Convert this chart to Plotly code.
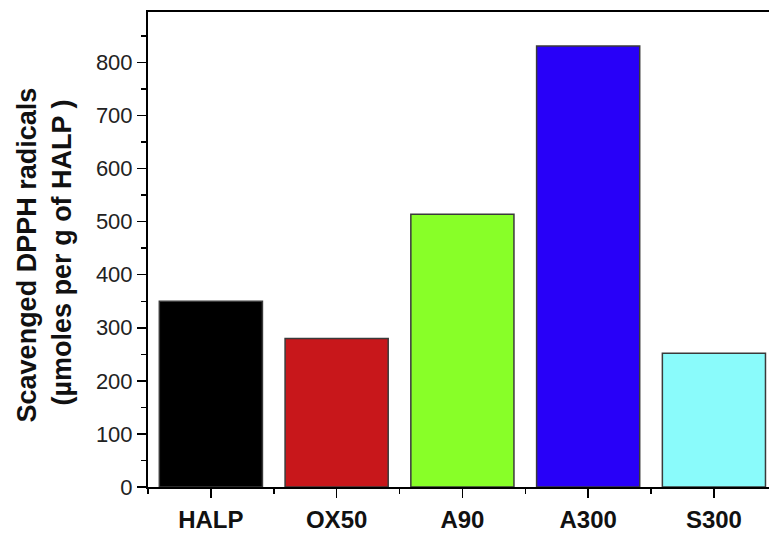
import plotly.graph_objects as go

categories = ["HALP", "OX50", "A90", "A300", "S300"]
values = [350, 280, 514, 831, 252]
colors = ["#000000", "#C8171B", "#88FF28", "#2800F8", "#8AFBFB"]
y_title_1 = "Scavenged DPPH radicals"
y_title_2 = "(µmoles per g of HALP )"

positions = list(range(len(categories)))

fig = go.Figure()
fig.add_trace(go.Bar(
    x=positions, y=values, width=0.82,
    marker=dict(color=colors, line=dict(color="#3a3a3a", width=1.5)),
    showlegend=False,
))

FONT = "Liberation Sans, Arial, sans-serif"

fig.update_layout(
    width=769, height=533,
    margin=dict(l=148, r=0, t=12, b=41),
    paper_bgcolor="white", plot_bgcolor="white",
    font=dict(family=FONT, color="#111"),
    bargap=0,
    xaxis=dict(
        range=[-0.5, 4.438], tickmode="array", tickvals=positions, ticktext=[f"<b>{c}</b>" for c in categories],
        showline=True, linecolor="black", linewidth=2, mirror=True,
        ticks="outside", ticklen=9, tickwidth=1.5, tickcolor="black",
        tickfont=dict(size=24, family=FONT, color="#111"),
        ticklabelstandoff=1,
        minor=dict(tickmode="linear", tick0=0.5, dtick=1, ticks="outside", ticklen=5, tickwidth=1.5, tickcolor="black"),
        showgrid=False, zeroline=False, fixedrange=True,
    ),
    yaxis=dict(
        range=[0, 895], tickmode="linear", tick0=0, dtick=100,
        showline=True, linecolor="black", linewidth=2, mirror=False,
        ticks="outside", ticklen=9, tickwidth=1.5, tickcolor="black",
        tickfont=dict(size=22, family=FONT, color="#222"),
        minor=dict(tickmode="linear", tick0=0, dtick=50, ticks="outside", ticklen=5, tickwidth=1.5, tickcolor="black"),
        showgrid=False, zeroline=False, fixedrange=True,
    ),
    annotations=[
        dict(text=f"<b>{y_title_1}</b>", xref="paper", yref="paper",
             x=(27 - 148) / 621, y=(492 - 258) / 480, textangle=-90,
             showarrow=False, xanchor="center", yanchor="middle",
             font=dict(size=27, family=FONT, color="#111")),
        dict(text=f"<b>{y_title_2}</b>", xref="paper", yref="paper",
             x=(62 - 148) / 621, y=(492 - 255) / 480, textangle=-90,
             showarrow=False, xanchor="center", yanchor="middle",
             font=dict(size=27, family=FONT, color="#111")),
    ],
)

fig.write_html(
    "out.html",
    config={"displayModeBar": False, "staticPlot": True},
    post_script="document.body.style.margin='0';document.body.style.overflow='hidden';",
)
